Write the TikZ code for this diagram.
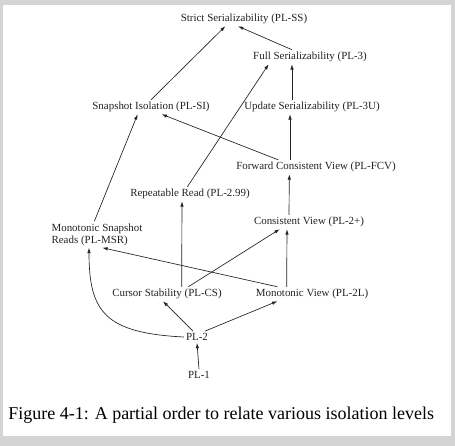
\documentclass[tikz,border=0pt]{standalone}
\usepackage{fontspec}
\setmainfont{Liberation Serif}
\usetikzlibrary{arrows.meta}
\definecolor{GrisBorde}{RGB}{212,212,212}
\definecolor{TintaScan}{RGB}{35,35,35}

\begin{document}
\begin{tikzpicture}[x=0.75pt,y=-0.75pt,>={Latex[length=4pt,width=2.6pt]},
  nivel/.style={font=\fontsize{8.2}{9}\selectfont,inner sep=1.5pt,text=TintaScan},
  flecha/.style={->,TintaScan,line width=0.5pt}]
  \useasboundingbox (0,0) rectangle (455,446);
  \fill[GrisBorde] (0,0) rectangle (455,446);
  \fill[white] (3,5) rectangle (451,436);
  % niveles
  \node[nivel] (ss) at (244,19) {Strict Serializability (PL-SS)};
  \node[nivel] (fl) at (310,57) {Full Serializability (PL-3)};
  \node[nivel] (si) at (151,107) {Snapshot Isolation (PL-SI)};
  \node[nivel] (u3) at (312,107) {Update Serializability (PL-3U)};
  \node[nivel] (fcv) at (316,167) {Forward Consistent View (PL-FCV)};
  \node[nivel] (rr) at (190,194) {Repeatable Read (PL-2.99)};
  \node[nivel] (cv) at (309,222) {Consistent View (PL-2+)};
  \node[nivel,align=left] (msr) at (97,234.5) {Monotonic Snapshot\\Reads (PL-MSR)};
  \node[nivel] (cs) at (167,294) {Cursor Stability (PL-CS)};
  \node[nivel] (ml) at (312,294) {Monotonic View (PL-2L)};
  \node[nivel] (pl2) at (197,337) {PL-2};
  \node[nivel] (pl1) at (199,375) {PL-1};
  % orden parcial
  \draw[flecha] (si.north) -- ([xshift=-14pt]ss.south);
  \draw[flecha] ([xshift=-13.5pt]fl.north) -- ([xshift=-4.5pt]ss.south);
  \draw[flecha] ([xshift=-2pt]rr.north) -- ([xshift=-31pt]fl.south);
  \draw[flecha] ([xshift=-15pt]u3.north) -- ([xshift=-13.5pt]fl.south);
  \draw[flecha] ([xshift=-19.5pt]fcv.north) -- ([xshift=-16.5pt]u3.south);
  \draw[flecha] ([xshift=-28.5pt]fcv.north) -- ([xshift=8pt]si.south);
  \draw[flecha] ([xshift=-15pt]cv.north) -- ([xshift=-20pt]fcv.south);
  \draw[flecha] ([xshift=-2pt]msr.north) -- ([xshift=-10pt]si.south);
  \draw[flecha] ([xshift=11pt]cs.north) -- ([xshift=-6pt]rr.south);
  \draw[flecha] ([xshift=16pt]cs.north) -- ([xshift=-22pt]cv.south);
  \draw[flecha] ([xshift=-19pt]ml.north) -- ([xshift=-16.5pt]cv.south);
  \draw[flecha] ([xshift=-26pt]ml.north) -- ([xshift=4pt]msr.south);
  \draw[flecha] ([xshift=-3pt]pl2.north) -- ([xshift=-3pt]cs.south);
  \draw[flecha] ([xshift=6pt]pl2.north) -- ([xshift=-26pt]ml.south);
  \draw[flecha] (pl2.west) .. controls (105,333) and (89,312) .. ([xshift=-6pt]msr.south);
  \draw[flecha] (pl1.north) -- (pl2.south);
  \node[anchor=base west,inner sep=0pt,font=\fontsize{13.5}{16}\selectfont] (leyenda) at (8,420)
    {Figure 4-1: A partial order to relate various isolation levels};
\end{tikzpicture}
\end{document}
